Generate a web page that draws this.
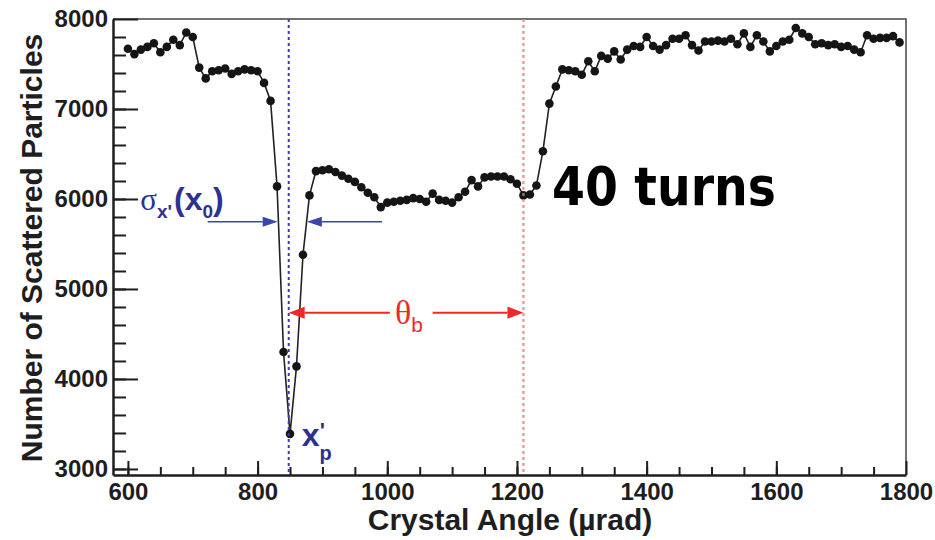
<!DOCTYPE html>
<html lang="en">
  <head>
    <meta charset="UTF-8" />
    <title>Scattered Particles vs Crystal Angle</title>
    <style type="text/css">
      body {
        margin: 0;
        background: #ffffff;
        font-family: "Liberation Sans", Arial, Helvetica, sans-serif;
      }

      svg {
        display: block;
      }

      .axis .tick text {
        font-size: 24px;
        font-weight: bold;
        fill: #1e1e1e;
      }

      .axis .tick line {
        stroke: #1e1e1e;
        stroke-width: 2;
      }

      .axis .domain {
        stroke: #1e1e1e;
        stroke-width: 2.5;
      }

      .axis-title {
        font-size: 30px;
        font-weight: bold;
        fill: #1e1e1e;
      }
    </style>
  </head>
  <body>
    <script src="https://d3js.org/d3.v7.min.js"></script>
    <script>
      // crystal angle (urad) and number of scattered particles
      var angles = [
        600, 610, 620, 630, 640, 650, 660, 670, 680, 690,
        700, 710, 720, 730, 740, 750, 760, 770, 780, 790,
        800, 810, 820, 830, 840, 850, 860, 870, 880, 890,
        900, 910, 920, 930, 940, 950, 960, 970, 980, 990,
        1000, 1010, 1020, 1030, 1040, 1050, 1060, 1070, 1080, 1090,
        1100, 1110, 1120, 1130, 1140, 1150, 1160, 1170, 1180, 1190,
        1200, 1210, 1220, 1230, 1240, 1250, 1260, 1270, 1280, 1290,
        1300, 1310, 1320, 1330, 1340, 1350, 1360, 1370, 1380, 1390,
        1400, 1410, 1420, 1430, 1440, 1450, 1460, 1470, 1480, 1490,
        1500, 1510, 1520, 1530, 1540, 1550, 1560, 1570, 1580, 1590,
        1600, 1610, 1620, 1630, 1640, 1650, 1660, 1670, 1680, 1690,
        1700, 1710, 1720, 1730, 1740, 1750, 1760, 1770, 1780, 1790
      ];
      var counts = [
        7670, 7610, 7660, 7690, 7730, 7630, 7690, 7770, 7710, 7850,
        7800, 7460, 7340, 7420, 7430, 7450, 7390, 7420, 7440, 7430,
        7420, 7290, 7090, 6140, 4300, 3390, 4140, 5380, 6040, 6310,
        6320, 6330, 6300, 6260, 6225, 6190, 6130, 6070, 6020, 5910,
        5960, 5970, 5980, 5990, 6010, 6000, 5970, 6060, 5990, 5980,
        5960, 6020, 6080, 6210, 6140, 6240, 6250, 6250, 6250, 6220,
        6170, 6040, 6050, 6150, 6530, 7060, 7250, 7440, 7430, 7420,
        7380, 7530, 7420, 7590, 7560, 7640, 7550, 7660, 7700, 7690,
        7800, 7700, 7660, 7710, 7780, 7780, 7820, 7710, 7650, 7750,
        7750, 7760, 7750, 7780, 7720, 7840, 7690, 7820, 7750, 7640,
        7700, 7750, 7770, 7900, 7840, 7800, 7720, 7730, 7710, 7720,
        7690, 7700, 7660, 7630, 7820, 7780, 7790, 7790, 7810, 7740
      ];

      var xTickValues = [600, 800, 1000, 1200, 1400, 1600, 1800];
      var yTickValues = [3000, 4000, 5000, 6000, 7000, 8000];

      // annotation positions in data units
      var peakAngle = 848;
      var bendAngle = 1210;
      var widthArrowLevel = 5747;
      var bendArrowLevel = 4737;

      var width = 935;
      var height = 540;
      var margin = { top: 19, right: 29, bottom: 65, left: 113 };

      var data = angles.map((a, i) => ({ angle: a, count: counts[i] }));

      var svg = d3
        .select("body")
        .append("svg")
        .attr("width", width)
        .attr("height", height);

      var x = d3
        .scaleLinear()
        .domain([577, 1800])
        .range([margin.left, width - margin.right]);
      var y = d3
        .scaleLinear()
        .domain([2933, 8000])
        .range([height - margin.bottom, margin.top]);

      // frame (top and right)
      svg
        .append("path")
        .attr("fill", "none")
        .attr("stroke", "#444")
        .attr("stroke-width", 1.5)
        .attr(
          "d",
          `M${x.range()[0]},${y.range()[1]}H${x.range()[1]}V${y.range()[0]}`
        );

      // minor ticks
      svg
        .append("g")
        .attr("class", "axis")
        .attr("transform", `translate(0,${y.range()[0]})`)
        .call(
          d3
            .axisBottom(x)
            .tickValues(d3.range(600, 1800, 50))
            .tickSizeInner(-8)
            .tickSizeOuter(0)
            .tickFormat("")
        )
        .call((g) => g.select(".domain").remove());

      svg
        .append("g")
        .attr("class", "axis")
        .attr("transform", `translate(${x.range()[0]},0)`)
        .call(
          d3
            .axisLeft(y)
            .tickValues(d3.range(3000, 8000, 200))
            .tickSizeInner(-13)
            .tickSizeOuter(0)
            .tickFormat("")
        )
        .call((g) => g.select(".domain").remove());

      // major ticks + labels
      svg
        .append("g")
        .attr("class", "axis")
        .attr("transform", `translate(0,${y.range()[0]})`)
        .call(
          d3
            .axisBottom(x)
            .tickValues(xTickValues)
            .tickSizeInner(-14)
            .tickSizeOuter(0)
            .tickPadding(8)
            .tickFormat(d3.format("d"))
        );

      svg
        .append("g")
        .attr("class", "axis")
        .attr("transform", `translate(${x.range()[0]},0)`)
        .call(
          d3
            .axisLeft(y)
            .tickValues(yTickValues)
            .tickSizeInner(-25)
            .tickSizeOuter(0)
            .tickPadding(5)
            .tickFormat(d3.format("d"))
        );

      // axis titles
      svg
        .append("text")
        .attr("class", "axis-title")
        .attr("x", 510)
        .attr("y", 530)
        .attr("text-anchor", "middle")
        .text("Crystal Angle (\u00b5rad)");

      svg
        .append("text")
        .attr("class", "axis-title")
        .attr("transform", "translate(42,248) rotate(-90)")
        .attr("text-anchor", "middle")
        .text("Number of Scattered Particles");

      // data
      var line = d3
        .line()
        .x((d) => x(d.angle))
        .y((d) => y(d.count));

      svg
        .append("path")
        .datum(data)
        .attr("fill", "none")
        .attr("stroke", "#222")
        .attr("stroke-width", 1.6)
        .attr("d", line);

      svg
        .append("g")
        .selectAll("circle")
        .data(data)
        .join("circle")
        .attr("cx", (d) => x(d.angle))
        .attr("cy", (d) => y(d.count))
        .attr("r", 4.3)
        .attr("fill", "#151515");

      // dotted guides
      svg
        .append("line")
        .attr("x1", x(peakAngle))
        .attr("x2", x(peakAngle))
        .attr("y1", y.range()[1])
        .attr("y2", y.range()[0])
        .attr("stroke", "#3c3cb4")
        .attr("stroke-width", 2)
        .attr("stroke-dasharray", "3,3");

      svg
        .append("line")
        .attr("x1", x(bendAngle))
        .attr("x2", x(bendAngle))
        .attr("y1", y.range()[1])
        .attr("y2", y.range()[0])
        .attr("stroke", "#f07878")
        .attr("stroke-opacity", 0.75)
        .attr("stroke-width", 2.5)
        .attr("stroke-dasharray", "3,3");

      function arrow(from, to, level, color, lw, headLen, headHalf) {
        var x1 = x(from);
        var x2 = x(to);
        var yy = y(level);
        var dir = x2 > x1 ? 1 : -1;
        svg
          .append("line")
          .attr("x1", x1)
          .attr("x2", x2 - dir * headLen)
          .attr("y1", yy)
          .attr("y2", yy)
          .attr("stroke", color)
          .attr("stroke-width", lw);
        svg
          .append("path")
          .attr("fill", color)
          .attr(
            "d",
            `M${x2},${yy}L${x2 - dir * headLen},${yy - headHalf}L${x2 - dir * headLen},${yy + headHalf}Z`
          );
      }

      var blue = "#2e3192";
      var red = "#ee2828";

      arrow(723, 831, widthArrowLevel, "#3a46a8", 1.5, 15, 5);
      arrow(992, 876, widthArrowLevel, "#3a46a8", 1.5, 15, 5);
      arrow(1004, peakAngle, bendArrowLevel, red, 2, 16, 6);
      arrow(1070, bendAngle, bendArrowLevel, red, 2, 16, 6);

      // labels
      var sigma = svg
        .append("text")
        .attr("x", x(619))
        .attr("y", y(5880))
        .attr("fill", blue)
        .attr("font-weight", "bold");
      sigma
        .append("tspan")
        .attr("font-family", "Liberation Serif, serif")
        .attr("font-weight", "normal")
        .attr("font-size", 31)
        .text("\u03c3");
      sigma.append("tspan").attr("font-size", 19).attr("dy", 8).text("x'");
      sigma
        .append("tspan")
        .attr("font-size", 32)
        .attr("dx", 2)
        .attr("dy", -8)
        .text("(x");
      sigma.append("tspan").attr("font-size", 19).attr("dy", 8).text("0");
      sigma.append("tspan").attr("font-size", 32).attr("dy", -8).text(")");

      var theta = svg
        .append("text")
        .attr("x", x(1012))
        .attr("y", y(4608))
        .attr("fill", red);
      theta
        .append("tspan")
        .attr("font-family", "Liberation Serif, serif")
        .attr("font-size", 34)
        .text("\u03b8");
      theta
        .append("tspan")
        .attr("font-size", 21)
        .attr("dy", 8)
        .text("b");

      var xp = svg
        .append("text")
        .attr("x", x(868))
        .attr("y", y(3255))
        .attr("fill", blue)
        .attr("font-weight", "bold")
        .attr("font-size", 32);
      xp.append("tspan").text("x");
      xp
        .append("tspan")
        .attr("font-size", 20)
        .attr("dy", 14)
        .text("p");
      xp
        .append("tspan")
        .attr("font-size", 22)
        .attr("dx", -12)
        .attr("dy", -22)
        .text("'");

      svg
        .append("text")
        .attr("x", x(1254))
        .attr("y", y(5938))
        .attr("font-family", "DejaVu Sans, sans-serif")
        .attr("font-weight", "bold")
        .attr("font-size", 54)
        .attr("textLength", 224)
        .attr("lengthAdjust", "spacingAndGlyphs")
        .attr("fill", "#000")
        .text("40 turns");
    </script>
  </body>
</html>
